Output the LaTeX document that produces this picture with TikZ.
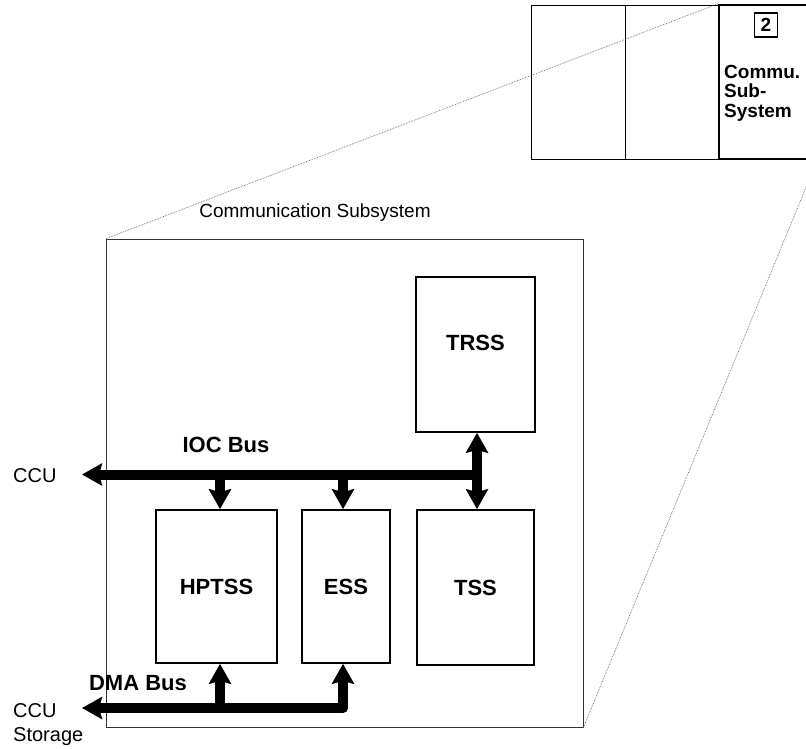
\documentclass[tikz,border=0pt]{standalone}
\usepackage{fontspec}
\setmainfont{Liberation Sans}
\usetikzlibrary{arrows.meta,positioning}

\begin{document}
\begin{tikzpicture}[
    x=1pt, y=-1pt,
    every node/.style={inner sep=0pt},
    subbox/.style={draw, line width=1.6pt, font=\bfseries\fontsize{22}{24}\selectfont},
    blk/.style={draw, line width=0.8pt, minimum width=94pt, minimum height=154pt},
    outer/.style={draw, line width=0.9pt, black!80},
    ccutext/.style={font=\fontsize{20}{24}\selectfont, align=left},
    busname/.style={font=\bfseries\fontsize{22}{24}\selectfont},
    bus/.style={line width=10pt, line join=round},
    busarr/.style={-{Stealth[length=20pt,width=22pt,inset=3pt]}},
    busarrtwo/.style={{Stealth[length=20pt,width=22pt,inset=3pt]}-{Stealth[length=20pt,width=22pt,inset=3pt]}},
    zoomline/.style={densely dotted, line width=0.7pt, black!60}
]
\useasboundingbox (0,0) rectangle (806,748);
\clip (0,0) rectangle (806,748);

% machine overview, top right
\node[blk] (blkA) at (578,82) {};
\node[blk] (blkB) at (672,82) {};
\node[draw, line width=2.4pt, minimum width=97pt, minimum height=154pt] (css) at (767.5,82) {};
\node[draw, line width=1.3pt, minimum width=23pt, minimum height=24pt, font=\bfseries\fontsize{19}{20}\selectfont] (cssnum) at (766,25) {2};
\node[anchor=north west, align=left, font=\bfseries\fontsize{19}{19.5}\selectfont] (csstext) at (724,65) {Commu.\\Sub-\\System};

% communication subsystem
\node[outer, minimum width=476.5pt, minimum height=488pt] (comm) at (344.75,483) {};
\node[font=\fontsize{19}{22}\selectfont] (commtitle) at (315,213) {Communication Subsystem};

\node[subbox, minimum width=119pt, minimum height=155pt, label={[busname, yshift=11.5pt]center:TRSS}] (trss) at (475.5,354.5) {};
\node[subbox, minimum width=121pt, minimum height=153pt] (hptss) at (216.5,586.5) {HPTSS};
\node[subbox, minimum width=88pt, minimum height=153pt] (ess) at (346,586.5) {ESS};
\node[subbox, minimum width=117pt, minimum height=155pt] (tss) at (475.5,587.5) {TSS};

% IOC bus
\coordinate (iocL) at (82,474.5);
\coordinate (iocR) at (477,474.5);
\coordinate (tapH) at (220,474.5);
\coordinate (tapE) at (343,474.5);
\draw[bus, busarr] (iocR) -- (iocL);
\draw[bus, busarr] (tapH) -- (tapH |- hptss.north);
\draw[bus, busarr] (tapE) -- (tapE |- ess.north);
\draw[bus, busarrtwo] (iocR |- trss.south) -- (iocR |- tss.north);

% DMA bus
\coordinate (dmaL) at (82,708);
\coordinate (dmaH) at (220,708);
\coordinate (dmaE) at (343,708);
\draw[bus, busarrtwo] (dmaE |- ess.south) -- (dmaE) -- (dmaL);
\draw[bus, busarr] (dmaH) -- (dmaH |- hptss.south);

\node[busname] (ioclbl) at (226,445) {IOC Bus};
\node[busname] (dmalbl) at (138,683) {DMA Bus};
\node[ccutext, anchor=west] (ccu) at (13,476) {CCU};
\node[ccutext, anchor=north west] (ccustore) at (13,703) {CCU\\Storage};

% zoom lines
\draw[zoomline] (comm.north west) -- (css.north west);
\draw[zoomline] (comm.south east) -- (css.south east);
\end{tikzpicture}
\end{document}
